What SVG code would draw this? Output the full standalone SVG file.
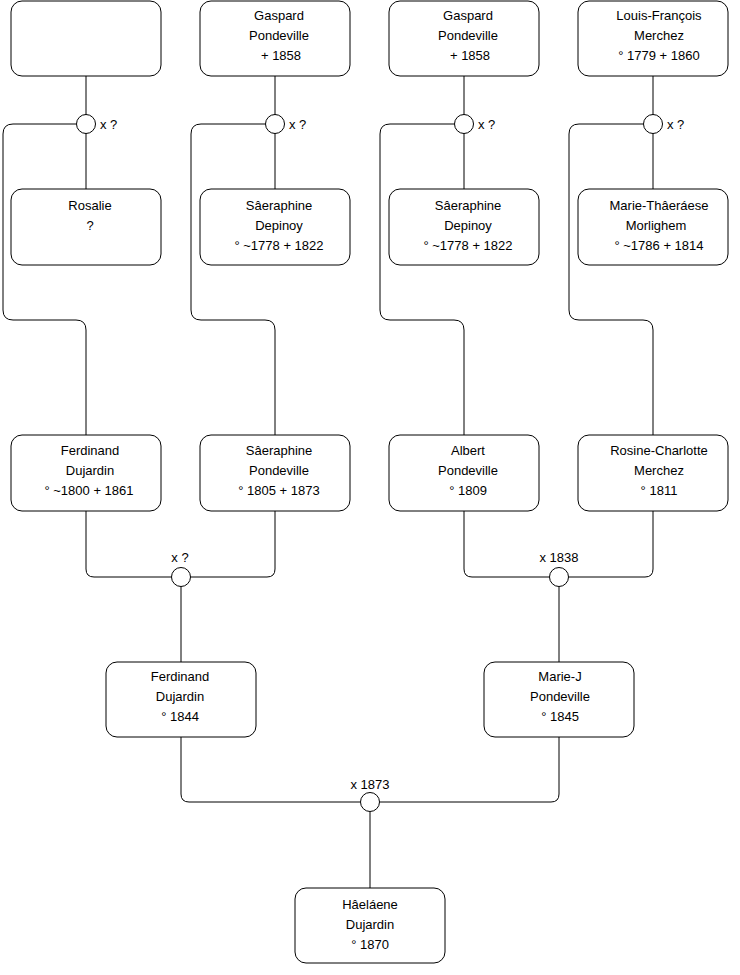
<svg xmlns="http://www.w3.org/2000/svg" width="740" height="975" viewBox="0 0 740 975">
<style>
.box{fill:#fff;stroke:#000;stroke-width:1}
.ln{fill:none;stroke:#000;stroke-width:1}
.dot{fill:#fff;stroke:#000;stroke-width:1}
text{font-family:"Liberation Sans",Arial,sans-serif;font-size:13px;fill:#000}
.c{text-anchor:middle}
</style>
<rect width="740" height="975" fill="#fff"/>
<g id="connectors">
<!-- top row to circles -->
<path class="ln" d="M86 76V189M275 76V189M464 76V189M653 76V189"/>
<!-- circles to row 3 -->
<path class="ln" d="M76.5 124H13Q3 124 3 134V310Q3 320 13 320H76Q86 320 86 330V435"/>
<path class="ln" d="M265.5 124H201Q191 124 191 134V310Q191 320 201 320H265Q275 320 275 330V435"/>
<path class="ln" d="M454.5 124H390Q380 124 380 134V310Q380 320 390 320H454Q464 320 464 330V435"/>
<path class="ln" d="M643.5 124H579Q569 124 569 134V310Q569 320 579 320H643Q653 320 653 330V435"/>
<!-- row 3 to marriages -->
<path class="ln" d="M86 511V569Q86 577 94 577H171.5M275 511V569Q275 577 267 577H190.5"/>
<path class="ln" d="M464 511V569Q464 577 472 577H549.5M653 511V569Q653 577 645 577H568.5"/>
<path class="ln" d="M181 586.5V662M559 586.5V662"/>
<path class="ln" d="M181 737V794Q181 802 189 802H360.5M559 737V794Q559 802 551 802H379.5"/>
<path class="ln" d="M370 811.5V888"/>
</g>
<g id="m1"><circle class="dot" cx="86" cy="124" r="9.5"/><text x="100" y="128.5">x ?</text></g>
<g id="m2"><circle class="dot" cx="275" cy="124" r="9.5"/><text x="289" y="128.5">x ?</text></g>
<g id="m3"><circle class="dot" cx="464" cy="124" r="9.5"/><text x="478" y="128.5">x ?</text></g>
<g id="m4"><circle class="dot" cx="653" cy="124" r="9.5"/><text x="667" y="128.5">x ?</text></g>
<g id="m5"><circle class="dot" cx="181" cy="577" r="9.5"/><text class="c" x="180" y="562">x ?</text></g>
<g id="m6"><circle class="dot" cx="559" cy="577" r="9.5"/><text class="c" x="559" y="562">x 1838</text></g>
<g id="m7"><circle class="dot" cx="370" cy="802" r="9.5"/><text class="c" x="370" y="789">x 1873</text></g>

<g id="n1"><rect class="box" x="11" y="1" width="150" height="75" rx="11"/></g>
<g id="n2"><rect class="box" x="200" y="1" width="150" height="75" rx="11"/>
<text class="c" x="279" y="20">Gaspard</text><text class="c" x="279" y="40">Pondeville</text><text class="c" x="281" y="60">+ 1858</text></g>
<g id="n3"><rect class="box" x="389" y="1" width="150" height="75" rx="11"/>
<text class="c" x="468" y="20">Gaspard</text><text class="c" x="468" y="40">Pondeville</text><text class="c" x="470" y="60">+ 1858</text></g>
<g id="n4"><rect class="box" x="578" y="1" width="150" height="75" rx="11"/>
<text class="c" x="659" y="20">Louis-François</text><text class="c" x="659" y="40">Merchez</text><text class="c" x="659" y="60">° 1779 + 1860</text></g>

<g id="n5"><rect class="box" x="11" y="189" width="150" height="76" rx="11"/>
<text class="c" x="90" y="210">Rosalie</text><text class="c" x="90" y="230">?</text></g>
<g id="n6"><rect class="box" x="200" y="189" width="150" height="76" rx="11"/>
<text class="c" x="279" y="210">Sâeraphine</text><text class="c" x="279" y="230">Depinoy</text><text class="c" x="279" y="250">° ~1778 + 1822</text></g>
<g id="n7"><rect class="box" x="389" y="189" width="150" height="76" rx="11"/>
<text class="c" x="468" y="210">Sâeraphine</text><text class="c" x="468" y="230">Depinoy</text><text class="c" x="468" y="250">° ~1778 + 1822</text></g>
<g id="n8"><rect class="box" x="578" y="189" width="150" height="76" rx="11"/>
<text class="c" x="659" y="210">Marie-Thâeráese</text><text class="c" x="656" y="230">Morlighem</text><text class="c" x="659" y="250">° ~1786 + 1814</text></g>

<g id="n9"><rect class="box" x="11" y="435" width="150" height="76" rx="11"/>
<text class="c" x="90" y="455">Ferdinand</text><text class="c" x="90" y="475">Dujardin</text><text class="c" x="89" y="495">° ~1800 + 1861</text></g>
<g id="n10"><rect class="box" x="200" y="435" width="150" height="76" rx="11"/>
<text class="c" x="279" y="455">Sâeraphine</text><text class="c" x="279" y="475">Pondeville</text><text class="c" x="279" y="495">° 1805 + 1873</text></g>
<g id="n11"><rect class="box" x="389" y="435" width="150" height="76" rx="11"/>
<text class="c" x="468" y="455">Albert</text><text class="c" x="468" y="475">Pondeville</text><text class="c" x="468" y="495">° 1809</text></g>
<g id="n12"><rect class="box" x="578" y="435" width="150" height="76" rx="11"/>
<text class="c" x="659" y="455">Rosine-Charlotte</text><text class="c" x="659" y="475">Merchez</text><text class="c" x="659" y="495">° 1811</text></g>

<g id="n13"><rect class="box" x="106" y="662" width="150" height="75" rx="11"/>
<text class="c" x="180" y="681">Ferdinand</text><text class="c" x="180" y="701">Dujardin</text><text class="c" x="180" y="721">° 1844</text></g>
<g id="n14"><rect class="box" x="484" y="662" width="150" height="75" rx="11"/>
<text class="c" x="560" y="681">Marie-J</text><text class="c" x="560" y="701">Pondeville</text><text class="c" x="560" y="721">° 1845</text></g>

<g id="n15"><rect class="box" x="295" y="888" width="150" height="75" rx="11"/>
<text class="c" x="370" y="909">Hâeláene</text><text class="c" x="370" y="929">Dujardin</text><text class="c" x="370" y="949">° 1870</text></g>
</svg>
